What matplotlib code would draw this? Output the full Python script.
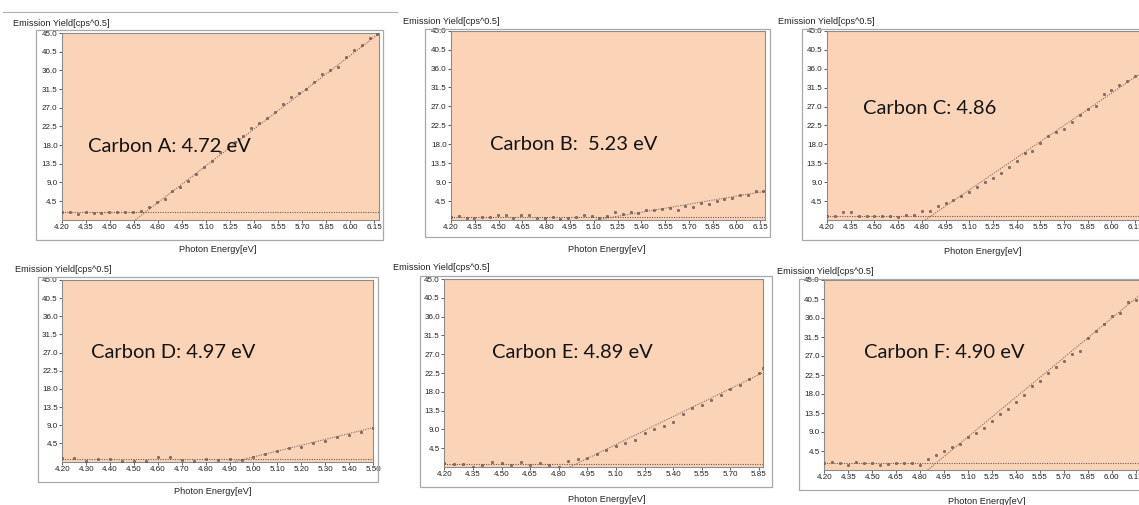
import numpy as np
import matplotlib
matplotlib.use("Agg")
import matplotlib.pyplot as plt
from matplotlib.patches import Rectangle
from matplotlib.lines import Line2D

plt.rcParams['font.family'] = ['Liberation Sans', 'DejaVu Sans']

# 数据
names = ["Carbon A: 4.72 eV", "Carbon B:  5.23 eV", "Carbon C: 4.86",
         "Carbon D: 4.97 eV", "Carbon E: 4.89 eV", "Carbon F: 4.90 eV"]

energy_a = np.linspace(4.20, 6.17, 41)
yield_a = [1.8, 1.8, 1.3, 1.9, 1.7, 1.5, 1.8, 1.8, 1.8, 1.8,
           2.2, 3.0, 4.3, 5.0, 6.9, 7.8, 9.3, 11.1, 12.8, 14.2,
           16.2, 17.4, 18.7, 20.1, 22.2, 23.4, 24.6, 25.9, 27.8, 29.6,
           30.5, 31.4, 33.3, 35.0, 36.2, 36.9, 39.2, 40.8, 42.2, 43.9, 44.8]

energy_b = np.linspace(4.20, 6.17, 41)
yield_b = [0.75, 1.0, 0.4, 0.4, 0.8, 0.75, 1.3, 1.2, 0.4, 1.3,
           1.2, 0.4, 0.45, 0.7, 0.3, 0.5, 0.8, 1.1, 1.0, 0.5,
           1.0, 1.8, 1.5, 2.0, 1.7, 2.4, 2.4, 2.5, 2.8, 2.4,
           3.4, 3.2, 4.1, 3.9, 4.4, 5.0, 5.3, 5.9, 6.0, 7.0, 6.8]

energy_c = np.linspace(4.20, 6.15, 40)
yield_c = [1.0, 0.9, 1.8, 1.8, 1.0, 1.0, 0.9, 1.0, 1.0, 0.8,
           1.1, 1.3, 2.1, 2.1, 3.3, 4.1, 4.7, 5.6, 6.7, 7.8,
           9.0, 9.9, 11.1, 12.6, 14.0, 16.0, 16.5, 18.3, 19.9, 20.9,
           21.7, 23.4, 24.9, 26.5, 27.1, 30.1, 31.0, 32.2, 33.0, 34.3]

energy_d = np.linspace(4.20, 5.50, 27)
yield_d = [0.95, 0.95, 0.1, 0.5, 0.6, 0.1, 0.1, 0.1, 1.2, 1.0,
           0.4, 0.1, 0.7, 0.45, 0.7, 0.45, 1.0, 1.8, 2.5, 3.3,
           3.7, 4.7, 5.2, 6.0, 6.6, 7.4, 8.4]

energy_e = np.append(np.linspace(4.20, 5.85, 34), 5.87)
yield_e = [1.0, 0.8, 0.7, 0.1, 0.55, 1.2, 0.9, 0.4, 1.1, 0.5,
           0.9, 0.4, 0.1, 1.4, 1.9, 2.2, 3.1, 4.1, 5.0, 5.7,
           6.5, 8.1, 9.1, 9.9, 10.7, 12.8, 14.1, 14.9, 16.0, 17.3,
           18.6, 19.6, 21.1, 22.4, 23.8]

energy_f = np.linspace(4.20, 6.15, 40)
yield_f = [1.7, 1.8, 1.65, 1.3, 1.8, 1.6, 1.65, 1.2, 1.5, 1.7,
           1.65, 1.65, 1.3, 2.6, 3.5, 4.5, 5.4, 6.2, 7.9, 8.7,
           9.9, 11.7, 13.2, 14.5, 16.1, 17.8, 19.8, 21.1, 22.9, 24.5,
           25.7, 27.4, 28.2, 31.2, 33.0, 34.6, 36.5, 37.2, 39.8, 40.2]

# 拟合: 阈值, 基线, 斜率
thresholds = [4.72, 5.23, 4.86, 4.97, 4.89, 4.90]
baselines = [1.8, 0.75, 1.0, 0.7, 0.7, 1.65]
slopes = [29.5, 6.4, 25.6, 14.5, 22.3, 31.2]
x_max = [6.18, 6.18, 6.20, 5.50, 5.873, 6.20]
x_step = [0.15, 0.15, 0.15, 0.10, 0.15, 0.15]
y_ticks = [4.5 * k for k in range(1, 11)]

energies = [energy_a, energy_b, energy_c, energy_d, energy_e, energy_f]
yields = [yield_a, yield_b, yield_c, yield_d, yield_e, yield_f]

W, H = 1139, 505
fig = plt.figure(figsize=(W / 100, H / 100), dpi=100)

# 像素位置: 绘图区 (左, 上, 右, 下), 外框, 文字
plot_px = [(62, 33, 379, 219.7), (451, 30.7, 765, 220), (827, 31, 1143, 220),
           (62.3, 280, 373, 461.5), (444.3, 279, 763.3, 467), (824.3, 280, 1143.7, 470)]
frame_px = [(36, 30, 383, 240), (425, 29, 770, 237), (802, 29, 1160, 240),
            (38, 277, 378, 482), (420, 276, 772, 487), (799, 279, 1160, 490)]
ylabel_px = [(13, 23), (403, 22), (778, 21), (15, 269), (393, 268), (777, 272)]
xlabel_px = [(218, 250), (607, 250), (983, 251), (213, 492), (607, 500), (987, 502)]
name_px = [(88, 146), (490, 145), (863, 108), (91, 352), (492, 352), (864, 352)]


def fx(px):
    return px / W


def fy(py):
    return 1 - py / H


# 顶部分隔线
fig.add_artist(Line2D([fx(3), fx(397)], [fy(12), fy(12)], color='#b0b0b0', lw=0.8))

for i in range(6):
    fl, ft, fr, fb = frame_px[i]
    fig.add_artist(Rectangle((fx(fl), fy(fb)), fx(fr - fl), (fb - ft) / H,
                             fill=False, ec='#a8a8a8', lw=0.9))

    l, t, r, b = plot_px[i]
    ax = fig.add_axes([fx(l), fy(b), fx(r - l), (b - t) / H])
    ax.set_facecolor('#fbd4b8')
    ax.set_xlim(4.20, x_max[i])
    ax.set_ylim(0, 45)

    e = energies[i]
    ax.plot(e, yields[i], 'o', ms=1.7, mfc='#857168', mec='#5e4e46', mew=0.4, zorder=3)

    thr, base, k = thresholds[i], baselines[i], slopes[i]
    ax.axhline(base, color='#6a5a55', lw=0.8, ls=(0, (1, 1.2)))
    x0 = thr - base / k
    xs = np.array([x0, x_max[i]])
    ax.plot(xs, base + k * (xs - thr), color='#8a6658', lw=0.8, ls=(0, (1, 1.2)))

    xt = np.arange(4.20, x_max[i] + 0.001, x_step[i])
    ax.set_xticks(xt)
    ax.set_xticklabels(['%.2f' % v for v in xt])
    ax.set_yticks(y_ticks)
    ax.set_yticklabels(['%.1f' % v for v in y_ticks])
    ax.tick_params(labelsize=5.8, length=2, width=0.6, pad=1.2, colors='#444444',
                   labelcolor='#222222')
    for s in ax.spines.values():
        s.set_color('#8c8c8c')
        s.set_linewidth(0.8)

    x, y = ylabel_px[i]
    fig.text(fx(x), fy(y), 'Emission Yield[cps^0.5]', fontsize=6.6,
             color='#222222', ha='left', va='center')
    x, y = xlabel_px[i]
    fig.text(fx(x), fy(y), 'Photon Energy[eV]', fontsize=6.6,
             color='#222222', ha='center', va='center')
    x, y = name_px[i]
    fig.text(fx(x), fy(y), names[i], fontsize=14.5, family='Lato',
             color='#141414', ha='left', va='center')

fig.savefig('out.png', dpi=100)
